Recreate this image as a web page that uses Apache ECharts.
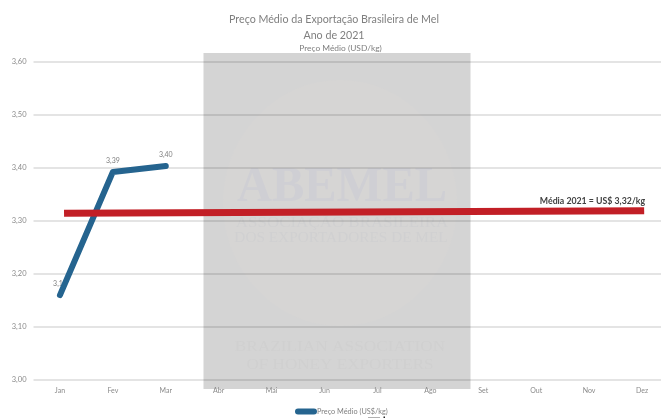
<!DOCTYPE html>
<html><head><meta charset="utf-8">
<style>html,body{margin:0;padding:0;background:#fff;overflow:hidden}#c{width:661px;height:418px}</style>
<script src="https://cdn.jsdelivr.net/npm/echarts@6/dist/echarts.min.js"></script>
</head><body><div id="c"></div>
<script>
const months = ['Jan','Fev','Mar','Abr','Mai','Jun','Jul','Ago','Set','Out','Nov','Dez'];
const priceValues = [3.16,3.392,3.403,null,null,null,null,null,null,null,null,null];
const averageLine = [[0.577,3.314],[11.54,3.319]];
const seriesName = 'Preço Médio (US$/kg)';
const averageLabel = 'Média 2021 = US$ 3,32/kg';
const FF = 'Lato, "Liberation Sans", sans-serif';
const fmt = v => v.toFixed(2).replace('.',',');
const wm = (text,x,y,size,sx,fill,font) => ({type:'text',z:-5,silent:true,x,y,scaleX:sx,
  style:{text,x:0,y:0,fill:fill||'#d0d0d1',font:font||(size+'px "Liberation Serif", serif'),textAlign:'center',textVerticalAlign:'middle'}});
const chart = echarts.init(document.getElementById('c'),null,{renderer:'canvas'});
chart.setOption({
  animation:false,
  backgroundColor:'#fff',
  title:[
    {text:'Preço Médio da Exportação Brasileira de Mel\nAno de 2021',left:334,top:12,padding:0,textAlign:'center',
     textStyle:{fontFamily:FF,fontSize:10.7,fontWeight:'normal',color:'#7f7f7f',lineHeight:15.5}},
    {text:'Preço Médio (USD/kg)',left:340.5,top:44,padding:0,textAlign:'center',
     textStyle:{fontFamily:FF,fontSize:8.4,fontWeight:'normal',color:'#7f7f7f'}}
  ],
  legend:{data:[seriesName],left:295,top:408,itemWidth:22,itemHeight:6,itemGap:0,padding:0,
    icon:'path://M3 0H19A3 3 0 0 1 19 6H3A3 3 0 0 1 3 0Z',
    textStyle:{fontFamily:FF,fontSize:7.3,color:'#7f7f7f',padding:[0,0,0,-5]}},
  grid:{left:33.5,top:61.5,width:635,height:318.5,outerBoundsMode:'none'},
  xAxis:[
    {type:'category',data:months,boundaryGap:true,axisTick:{show:false},
     axisLine:{show:false},splitLine:{show:false},
     axisLabel:{fontFamily:FF,fontSize:7,color:'#8a8a8a',margin:7}},
    {type:'value',min:0,max:12,show:false}
  ],
  yAxis:{type:'value',min:3.0,max:3.6,interval:0.1,axisLine:{show:false},axisTick:{show:false},
    splitLine:{lineStyle:{color:'rgba(0,0,0,0.105)',width:2}},
    axisLabel:{fontFamily:FF,fontSize:7.5,color:'#8a8a8a',margin:7,formatter:v=>fmt(v)}},
  graphic:{elements:[
    {type:'rect',z:-10,silent:true,shape:{x:203.5,y:53,width:267,height:336},style:{fill:'#d4d4d4'}},
    {type:'ellipse',z:-9,silent:true,shape:{cx:340,cy:203,rx:117,ry:123},style:{fill:'#d6d5d4'}},
    wm('ABEMEL',342,188,50,0.97,'#cfcfd4','bold 50px "Liberation Serif", serif'),
    wm('ASSOCIAÇÃO BRASILEIRA',342,223,15,1.13),
    wm('DOS EXPORTADORES DE MEL',341,238,15,1.02),
    wm('BRAZILIAN ASSOCIATION',340,347,14.5,1.19,'#d0d0d0'),
    wm('OF HONEY EXPORTERS',340,365,14.5,1.18,'#d0d0d0'),
    {type:'rect',silent:true,shape:{x:368,y:417,width:12,height:1},style:{fill:'#b0b0b0'}},
    {type:'rect',silent:true,shape:{x:383.5,y:416.5,width:1.5,height:1.5},style:{fill:'#222'}}
  ]},
  series:[
    {name:'labels',type:'line',z:1,data:priceValues,symbol:'circle',symbolSize:1,
     lineStyle:{opacity:0},itemStyle:{opacity:0},
     label:{show:true,position:'top',distance:7,fontFamily:FF,fontSize:7,color:'#7f7f7f',opacity:1,
       formatter:p=>fmt(p.value)}},
    {name:seriesName,type:'line',z:3,data:priceValues,symbol:'none',connectNulls:false,
     lineStyle:{color:'#25648f',width:6,cap:'round',join:'round'},itemStyle:{color:'#25648f'}},
    {name:'Média 2021',type:'line',z:4,xAxisIndex:1,data:averageLine,symbol:'none',
     lineStyle:{color:'#c21f26',width:7,cap:'butt'},
     endLabel:{show:true,formatter:averageLabel,distance:0,offset:[1,-9.5],align:'right',verticalAlign:'middle',
        fontFamily:FF,fontSize:8.75,fontWeight:'bold',color:'#404040'}}
  ]
});
</script></body></html>
